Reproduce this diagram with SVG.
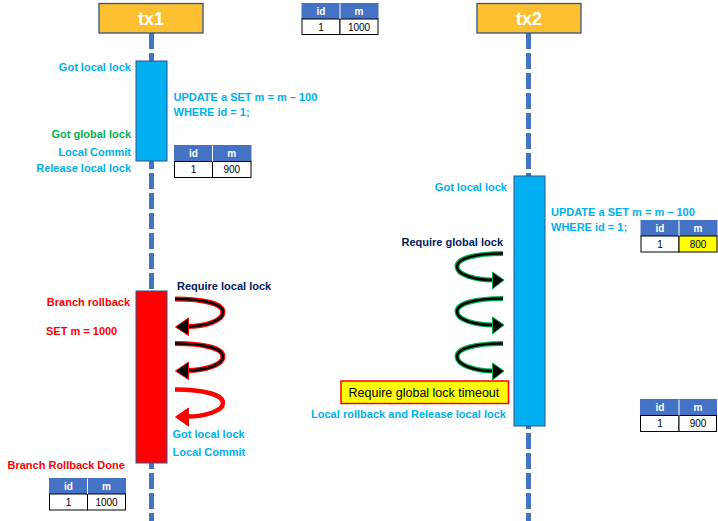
<svg xmlns="http://www.w3.org/2000/svg" width="718" height="521" viewBox="0 0 718 521">
<style>
text{font-family:"Liberation Sans",Arial,sans-serif}
.hdr{fill:#FBBF30;stroke:#2F528F;stroke-width:1.3}
.hdrt{fill:#fff;font-size:18px;font-weight:bold;text-anchor:middle}
.life{stroke:#4472C4;stroke-width:5;stroke-dasharray:16 4;fill:none}
.act{fill:#00B0F0;stroke:#2F528F;stroke-width:1}
.rb{fill:#FF0000;stroke:#2F528F;stroke-width:1}
.lbl{font-size:11px;font-weight:bold}
.cy{fill:#00B0F0}.gr{fill:#00B050}.nv{fill:#002060}.rd{fill:#FF0000}
.r{text-anchor:end}
.th{fill:#4472C4;stroke:#4472C4;stroke-width:1}
.td{fill:#fff;stroke:#000;stroke-width:1}
.tdy{fill:#FFFF00;stroke:#000;stroke-width:1}
.tht{fill:#fff;font-size:10px;font-weight:bold;text-anchor:middle}
.tdt{fill:#000;font-size:10px;text-anchor:middle}
.lo{fill:none;stroke-linecap:butt}
</style>
<g id="connectors">
<line class="life" x1="151.5" y1="33" x2="151.5" y2="521"/>
<line class="life" x1="528.5" y1="33" x2="528.5" y2="521"/>
</g>
<g id="tx1">
<rect class="hdr" x="99" y="3.5" width="104" height="29.5"/>
<text class="hdrt" x="151" y="24.5">tx1</text>
</g>
<g id="tx2">
<rect class="hdr" x="477" y="3.5" width="104" height="29.5"/>
<text class="hdrt" x="529" y="24.5">tx2</text>
</g>
<g id="tx1-activation">
<rect class="act" x="136" y="61" width="31" height="100"/>
</g>
<g id="tx1-rollback">
<rect class="rb" x="136" y="291" width="31" height="172"/>
</g>
<g id="tx2-activation">
<rect class="act" x="514" y="176" width="31" height="250"/>
</g>
<g id="loops">
<g id="tx1-loop1">
<path class="lo" d="M175,299 C205,299 223,304 223,312 C223,321 205,326.5 187,326.5" stroke="#FF0000" stroke-width="5"/>
<path class="lo" d="M175,299 C205,299 223,304 223,312 C223,321 205,326.5 187,326.5" stroke="#000" stroke-width="2.6"/>
<polygon points="188.5,318 175.5,327 188.5,335.5" fill="#000" stroke="#FF0000" stroke-width="1"/>
</g>
<g id="tx1-loop2">
<path class="lo" d="M175,343.5 C205,343.5 223,348.5 223,356.5 C223,365 205,370.5 187,370.5" stroke="#FF0000" stroke-width="5"/>
<path class="lo" d="M175,343.5 C205,343.5 223,348.5 223,356.5 C223,365 205,370.5 187,370.5" stroke="#000" stroke-width="2.6"/>
<polygon points="188.5,362 175.5,371 188.5,379.5" fill="#000" stroke="#FF0000" stroke-width="1"/>
</g>
<g id="tx1-loop3">
<path class="lo" d="M175,389.5 C205,389.5 223,395 223,403 C223,411 205,416.5 187,416.5" stroke="#FF0000" stroke-width="4.5"/>
<polygon points="188.5,408 175.5,417 188.5,426" fill="#FF0000" stroke="#FF0000" stroke-width="1"/>
</g>
<g id="tx2-loop1">
<path class="lo" d="M503,253.5 C475,253.5 457,258.5 457,266.5 C457,275 475,280 493,280" stroke="#00B050" stroke-width="5"/>
<path class="lo" d="M503,253.5 C475,253.5 457,258.5 457,266.5 C457,275 475,280 493,280" stroke="#000" stroke-width="2.6"/>
<polygon points="492.5,272 504,280 492.5,289" fill="#000" stroke="#00B050" stroke-width="1"/>
</g>
<g id="tx2-loop2">
<path class="lo" d="M503,298.5 C475,298.5 457,303.5 457,311.5 C457,320 475,325 493,325" stroke="#00B050" stroke-width="5"/>
<path class="lo" d="M503,298.5 C475,298.5 457,303.5 457,311.5 C457,320 475,325 493,325" stroke="#000" stroke-width="2.6"/>
<polygon points="492.5,317 504,325 492.5,334" fill="#000" stroke="#00B050" stroke-width="1"/>
</g>
<g id="tx2-loop3">
<path class="lo" d="M503,343.5 C475,343.5 457,348.5 457,356.5 C457,365 475,371 493,371" stroke="#00B050" stroke-width="5"/>
<path class="lo" d="M503,343.5 C475,343.5 457,348.5 457,356.5 C457,365 475,371 493,371" stroke="#000" stroke-width="2.6"/>
<polygon points="492.5,363 504,371 492.5,380" fill="#000" stroke="#00B050" stroke-width="1"/>
</g>
</g>
<g id="labels">
<text class="lbl cy r" x="131" y="70.5">Got local lock</text>
<text class="lbl cy" x="173.5" y="101">UPDATE a SET m = m – 100</text>
<text class="lbl cy" x="173.5" y="116">WHERE id = 1;</text>
<text class="lbl gr r" x="131" y="137.5">Got global lock</text>
<text class="lbl cy r" x="131" y="156">Local Commit</text>
<text class="lbl cy r" x="131" y="172">Release local lock</text>
<text class="lbl cy r" x="507" y="190.5">Got local lock</text>
<text class="lbl cy" x="551" y="215.5">UPDATE a SET m = m – 100</text>
<text class="lbl cy" x="551" y="230.5">WHERE id = 1;</text>
<text class="lbl nv r" x="503" y="245.5">Require global lock</text>
<text class="lbl nv" x="177" y="290">Require local lock</text>
<text class="lbl rd r" x="130" y="305.5">Branch rollback</text>
<text class="lbl rd" x="46" y="334.5">SET m = 1000</text>
<text class="lbl cy" x="172.5" y="438">Got local lock</text>
<text class="lbl cy" x="172.5" y="456">Local Commit</text>
<text class="lbl rd" x="7.5" y="469">Branch Rollback Done</text>
<text class="lbl cy" x="311" y="418" textLength="195" lengthAdjust="spacingAndGlyphs">Local rollback and Release local lock</text>
</g>
<g id="timeout-note">
<rect x="341" y="381" width="167.5" height="22.5" fill="#FFFF00" stroke="#FF0000" stroke-width="1.5"/>
<text x="348.5" y="396.5" font-size="12.5" fill="#000">Require global lock timeout</text>
</g>
<g id="table-initial">
<rect class="th" x="302" y="3.5" width="76" height="15.5"/>
<rect class="td" x="302" y="19" width="38" height="15.5"/>
<rect class="td" x="340" y="19" width="38" height="15.5"/>
<line x1="340" y1="3.5" x2="340" y2="19" stroke="#fff" stroke-width="1"/>
<text class="tht" x="321" y="15">id</text><text class="tht" x="359" y="15">m</text>
<text class="tdt" x="321" y="30.5">1</text><text class="tdt" x="359" y="30.5">1000</text>
</g>
<g id="table-tx1-900">
<rect class="th" x="174.5" y="145.5" width="76.5" height="16"/>
<rect class="td" x="174.5" y="161.5" width="38" height="16"/>
<rect class="td" x="212.5" y="161.5" width="38.5" height="16"/>
<line x1="212.5" y1="145.5" x2="212.5" y2="161.5" stroke="#fff" stroke-width="1"/>
<text class="tht" x="193.5" y="157">id</text><text class="tht" x="231.8" y="157">m</text>
<text class="tdt" x="193.5" y="173">1</text><text class="tdt" x="231.8" y="173">900</text>
</g>
<g id="table-tx2-800">
<rect class="th" x="641" y="220.5" width="76" height="15.5"/>
<rect class="td" x="641" y="236" width="38" height="16"/>
<rect class="tdy" x="679" y="236" width="38" height="16"/>
<line x1="679" y1="220.5" x2="679" y2="236" stroke="#fff" stroke-width="1"/>
<text class="tht" x="660" y="232">id</text><text class="tht" x="698" y="232">m</text>
<text class="tdt" x="660" y="247.5">1</text><text class="tdt" x="698" y="247.5">800</text>
</g>
<g id="table-tx2-900">
<rect class="th" x="640.5" y="399.5" width="76" height="16"/>
<rect class="td" x="640.5" y="415.5" width="38.5" height="16"/>
<rect class="td" x="679" y="415.5" width="37.5" height="16"/>
<line x1="679" y1="399.5" x2="679" y2="415.5" stroke="#fff" stroke-width="1"/>
<text class="tht" x="660" y="411">id</text><text class="tht" x="698" y="411">m</text>
<text class="tdt" x="660" y="427">1</text><text class="tdt" x="698" y="427">900</text>
</g>
<g id="table-final">
<rect class="th" x="49.5" y="478.5" width="76" height="15.5"/>
<rect class="td" x="49.5" y="494" width="38" height="16"/>
<rect class="td" x="87.5" y="494" width="38" height="16"/>
<line x1="87.5" y1="478.5" x2="87.5" y2="494" stroke="#fff" stroke-width="1"/>
<text class="tht" x="68.5" y="490">id</text><text class="tht" x="106.5" y="490">m</text>
<text class="tdt" x="68.5" y="505.5">1</text><text class="tdt" x="106.5" y="505.5">1000</text>
</g>
</svg>
